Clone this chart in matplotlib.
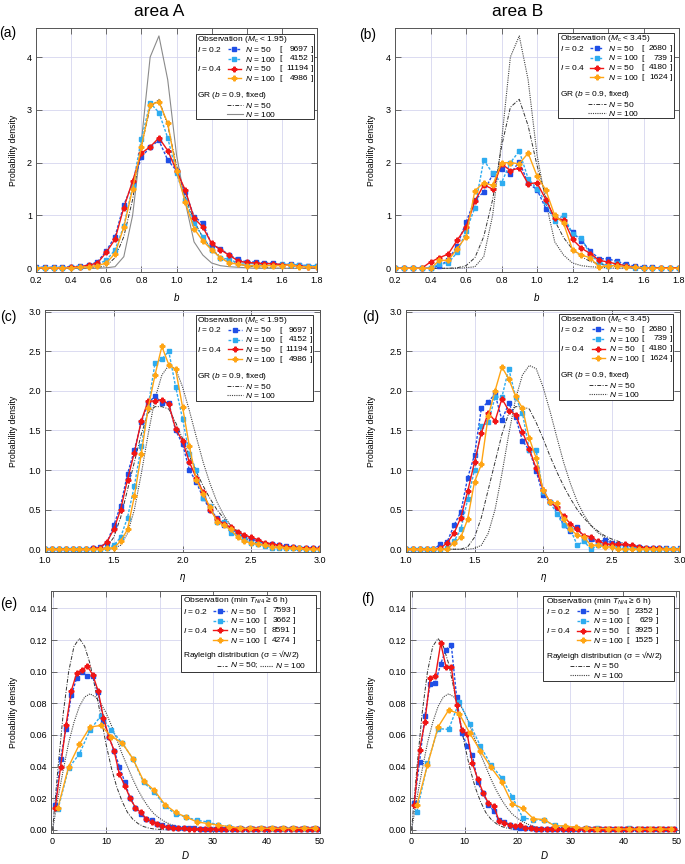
"""Six-panel probability density figure: b, eta and D for area A / area B."""
import numpy as np
import matplotlib
matplotlib.use("Agg")
import matplotlib.pyplot as plt
from matplotlib.lines import Line2D
from matplotlib.patches import Rectangle

# ---------------------------------------------------------------- data
b_x = np.round(np.arange(0.2, 1.8001, 0.05), 2)      # 33 bins
eta_x = np.round(np.arange(1.0, 3.0001, 0.05), 2)    # 41 bins
d_x50 = np.arange(0.5, 50, 1.0)                       # 50 bins (N = 50)
d_x100 = np.arange(1, 50, 2.0)                        # 25 bins (N = 100)
ray_x = np.arange(0, 31, 1.0)

# (a) area A, b-value
a_blue50 = [0.02, 0.02, 0.02, 0.02, 0.03, 0.04, 0.06, 0.12,
            0.33, 0.60, 1.20, 1.60, 2.10, 2.30, 2.42, 2.05,
            1.85, 1.45, 0.98, 0.85, 0.45, 0.37, 0.25, 0.17,
            0.12, 0.12, 0.10, 0.10, 0.07, 0.08, 0.06, 0.04, 0.05]
a_cyan100 = [0.01, 0.01, 0.01, 0.01, 0.02, 0.03, 0.04, 0.08,
             0.15, 0.35, 0.80, 1.55, 2.45, 3.13, 2.95, 2.47,
             1.80, 1.30, 0.85, 0.60, 0.35, 0.20, 0.17, 0.10,
             0.10, 0.08, 0.06, 0.06, 0.08, 0.07, 0.07, 0.05, 0.05]
a_red50 = [0.01, 0.01, 0.01, 0.01, 0.02, 0.03, 0.06, 0.10,
           0.30, 0.55, 1.15, 1.65, 2.18, 2.30, 2.47, 2.23,
           1.85, 1.48, 0.95, 0.78, 0.47, 0.35, 0.25, 0.14,
           0.11, 0.10, 0.09, 0.09, 0.07, 0.06, 0.04, 0.03, 0.03]
a_orange100 = [0.01, 0.01, 0.01, 0.01, 0.01, 0.02, 0.03, 0.05,
               0.10, 0.28, 0.78, 1.50, 2.30, 3.10, 3.15, 2.75,
               1.85, 1.25, 0.75, 0.52, 0.35, 0.20, 0.10, 0.08,
               0.05, 0.05, 0.05, 0.05, 0.05, 0.07, 0.03, 0.03, 0.03]
# (b) area B, b-value
b_blue50 = [0, 0, 0, 0, 0, 0.05, 0.15, 0.43,
            0.87, 1.30, 1.44, 1.78, 1.88, 1.79, 2.02, 1.61,
            1.49, 1.13, 0.97, 0.90, 0.68, 0.52, 0.33, 0.18,
            0.18, 0.13, 0.08, 0.04, 0.03, 0.02, 0.01, 0.01, 0.01]
b_cyan100 = [0, 0, 0, 0, 0, 0.08, 0.10, 0.30,
             0.70, 1.15, 2.05, 1.80, 1.62, 2.00, 2.22, 1.70,
             1.50, 1.25, 0.90, 1.00, 0.65, 0.58, 0.25, 0.12,
             0.05, 0.10, 0.05, 0, 0, 0, 0, 0, 0]
b_red50 = [0, 0, 0, 0, 0.12, 0.20, 0.27, 0.53,
           0.78, 1.27, 1.58, 1.50, 1.98, 1.85, 1.90, 1.60,
           1.62, 1.30, 0.95, 0.92, 0.55, 0.38, 0.28, 0.15,
           0.12, 0.08, 0.05, 0.02, 0.01, 0.01, 0.01, 0.01, 0.01]
b_orange100 = [0, 0, 0, 0, 0, 0.15, 0.15, 0.37,
               0.60, 1.47, 1.62, 1.57, 2.00, 2.00, 1.98, 2.18,
               1.75, 1.48, 1.00, 0.85, 0.35, 0.25, 0.20, 0.02,
               0.05, 0.05, 0.03, 0.02, 0.01, 0, 0, 0, 0]
# GR model (b = 0.9 fixed), b-value
gr50_b = [0, 0, 0, 0, 0, 0, 0, 0.01,
          0.05, 0.20, 0.60, 1.30, 2.30, 3.05, 3.20, 2.70,
          1.95, 1.35, 0.90, 0.58, 0.36, 0.22, 0.13, 0.08,
          0.05, 0.03, 0.02, 0.01, 0, 0, 0, 0, 0]
gr100_b = [0, 0, 0, 0, 0, 0, 0, 0,
           0.01, 0.03, 0.22, 1.00, 2.40, 4.00, 4.40, 3.57,
           2.15, 1.25, 0.50, 0.25, 0.10, 0.05, 0.03, 0.02,
           0.01, 0, 0, 0, 0, 0, 0, 0, 0]

# (c) area A, eta
c_blue50 = [0, 0, 0, 0, 0, 0, 0, 0.02, 0.03, 0.08,
            0.30, 0.55, 0.95, 1.25, 1.60, 1.85, 1.93, 1.85, 1.85, 1.50,
            1.33, 1.00, 0.85, 0.65, 0.50, 0.40, 0.30, 0.27, 0.20, 0.15,
            0.13, 0.10, 0.07, 0.07, 0.05, 0.04, 0.03, 0.02, 0.02, 0.01, 0.01]
c_cyan100 = [0, 0, 0, 0, 0, 0, 0, 0, 0, 0.01,
             0.05, 0.15, 0.40, 0.80, 1.30, 1.80, 2.35, 2.40, 2.50, 2.05,
             1.65, 1.20, 1.00, 0.65, 0.55, 0.35, 0.35, 0.20, 0.20, 0.12,
             0.08, 0.06, 0.04, 0.02, 0.02, 0.02, 0.01, 0.01, 0, 0, 0]
c_red50 = [0, 0, 0, 0, 0, 0, 0, 0.01, 0.02, 0.09,
           0.25, 0.50, 0.88, 1.22, 1.62, 1.87, 1.87, 1.89, 1.83, 1.52,
           1.37, 1.10, 0.90, 0.72, 0.50, 0.38, 0.32, 0.28, 0.22, 0.18,
           0.15, 0.12, 0.08, 0.07, 0.05, 0.03, 0.03, 0.02, 0.02, 0.01, 0.01]
c_orange100 = [0, 0, 0, 0, 0, 0, 0, 0, 0, 0.01,
               0.02, 0.10, 0.25, 0.67, 1.20, 1.78, 2.20, 2.56, 2.33, 2.27,
               1.80, 1.30, 0.88, 0.70, 0.53, 0.35, 0.30, 0.25, 0.15, 0.10,
               0.08, 0.06, 0.05, 0.03, 0.03, 0.02, 0.01, 0.01, 0, 0, 0]
# (d) area B, eta
d_blue50 = [0, 0, 0, 0, 0, 0.06, 0.09, 0.30, 0.47, 0.90,
            1.19, 1.78, 1.86, 1.96, 1.63, 1.84, 1.67, 1.37, 1.25, 0.99,
            0.68, 0.60, 0.52, 0.30, 0.23, 0.28, 0.13, 0.13, 0.08, 0.12,
            0.08, 0.06, 0.05, 0.04, 0.03, 0.02, 0.01, 0.01, 0.01, 0, 0.01]
d_cyan100 = [0, 0, 0, 0, 0, 0, 0.02, 0.10, 0.25, 0.63,
             1.00, 1.55, 1.60, 1.92, 1.92, 2.28, 1.92, 1.72, 1.25, 1.25,
             0.72, 0.60, 0.45, 0.30, 0.25, 0.05, 0.10, 0, 0.05, 0.05,
             0.05, 0.03, 0, 0.03, 0, 0, 0, 0, 0, 0, 0]
d_red50 = [0, 0, 0, 0, 0, 0.01, 0.08, 0.20, 0.40, 0.73,
           1.10, 1.47, 1.72, 1.62, 1.90, 1.75, 1.70, 1.48, 1.27, 1.02,
           0.75, 0.60, 0.53, 0.42, 0.32, 0.25, 0.17, 0.16, 0.10, 0.07,
           0.06, 0.06, 0.06, 0.05, 0.03, 0.02, 0.02, 0.01, 0, 0, 0]
d_orange100 = [0, 0, 0, 0, 0, 0, 0, 0.08, 0.15, 0.38,
               0.85, 1.07, 1.68, 2.00, 2.30, 2.15, 1.93, 1.78, 1.40, 1.15,
               0.75, 0.60, 0.58, 0.38, 0.25, 0.18, 0.15, 0.05, 0.05, 0.03,
               0.03, 0, 0, 0, 0, 0, 0, 0, 0, 0, 0]
# GR model, eta
gr50_eta = [0, 0, 0, 0, 0, 0, 0, 0, 0, 0.03,
            0.15, 0.40, 0.75, 1.10, 1.45, 1.72, 1.80, 1.80, 1.77, 1.60,
            1.40, 1.18, 0.98, 0.80, 0.64, 0.50, 0.39, 0.30, 0.23, 0.17,
            0.13, 0.10, 0.07, 0.05, 0.04, 0.03, 0.02, 0.015, 0.01, 0.01, 0.005]
gr100_eta = [0, 0, 0, 0, 0, 0, 0, 0, 0, 0,
             0.01, 0.05, 0.20, 0.50, 0.95, 1.45, 1.90, 2.20, 2.32, 2.28,
             2.05, 1.75, 1.42, 1.10, 0.83, 0.60, 0.43, 0.30, 0.21, 0.15,
             0.10, 0.07, 0.05, 0.03, 0.02, 0.015, 0.01, 0.005, 0, 0, 0]

# (e) area A, D
e_blue50 = [0.016, 0.045, 0.064, 0.085, 0.096, 0.100, 0.0975, 0.097, 0.087, 0.069,
            0.059, 0.050, 0.040, 0.030, 0.020, 0.014, 0.010, 0.007, 0.006, 0.004,
            0.003, 0.002, 0.0015, 0.001, 0.001, 0.001, 0.001, 0.0008, 0.0008, 0.0008,
            0.0008, 0.0008, 0.0008, 0.0008, 0.0008, 0.0008, 0.0008, 0.0008, 0.0008, 0.0008,
            0.0008, 0.0008, 0.0008, 0.0008, 0.0008, 0.0008, 0.0008, 0.0008, 0.0008, 0.0008]
e_red50 = [0.014, 0.040, 0.066, 0.088, 0.099, 0.101, 0.1035, 0.098, 0.088, 0.071,
           0.059, 0.050, 0.035, 0.028, 0.020, 0.014, 0.011, 0.007, 0.005, 0.004,
           0.0025, 0.0018, 0.0012, 0.001, 0.001, 0.0008, 0.0008, 0.0008, 0.0008, 0.0008,
           0.0008, 0.0008, 0.0008, 0.0008, 0.0008, 0.0008, 0.0008, 0.0008, 0.0008, 0.0008,
           0.0008, 0.0008, 0.0008, 0.0008, 0.0008, 0.0008, 0.0008, 0.0008, 0.0008, 0.0008]
e_cyan100 = [0.013, 0.039, 0.048, 0.063, 0.072, 0.063, 0.055, 0.045, 0.030, 0.024,
             0.015, 0.010, 0.008, 0.006, 0.005, 0.003, 0.002, 0.001, 0.001, 0.001,
             0.001, 0.001, 0.001, 0.001, 0.001]
e_orange100 = [0.014, 0.040, 0.054, 0.065, 0.066, 0.059, 0.055, 0.045, 0.031, 0.025,
               0.016, 0.011, 0.008, 0.005, 0.004, 0.003, 0.002, 0.001, 0.001, 0.001,
               0.001, 0.001, 0.001, 0.001, 0.001]
# (f) area B, D
f_blue50 = [0.017, 0.043, 0.072, 0.092, 0.093, 0.105, 0.114, 0.117, 0.084, 0.061,
            0.053, 0.047, 0.030, 0.023, 0.016, 0.012, 0.006, 0.005, 0.003, 0.002,
            0.001, 0.001, 0.001, 0.0008, 0.0008, 0.0008, 0.0008, 0.0008, 0.0008, 0.0008,
            0.0008, 0.0008, 0.0008, 0.0008, 0.0008, 0.0008, 0.0008, 0.0008, 0.0008, 0.0008,
            0.0008, 0.0008, 0.0008, 0.0008, 0.0008, 0.0008, 0.0008, 0.0008, 0.0008, 0.0008]
f_red50 = [0.016, 0.0505, 0.068, 0.096, 0.097, 0.118, 0.103, 0.103, 0.079, 0.063,
           0.0606, 0.042, 0.032, 0.0236, 0.0168, 0.0152, 0.0059, 0.0042, 0.0032, 0.0025,
           0.003, 0.001, 0.001, 0.0008, 0.0008, 0.0008, 0.0008, 0.0008, 0.0008, 0.0008,
           0.0008, 0.0008, 0.0008, 0.0008, 0.0008, 0.0008, 0.0008, 0.0008, 0.0008, 0.0008,
           0.0008, 0.0008, 0.0008, 0.0008, 0.0008, 0.0008, 0.0008, 0.0008, 0.0008, 0.0008]
f_cyan100 = [0.0115, 0.042, 0.064, 0.0635, 0.081, 0.067, 0.053, 0.041, 0.033, 0.021,
             0.0075, 0.0065, 0.006, 0.003, 0.002, 0.001, 0.001, 0.001, 0.0007, 0.0005,
             0.0009, 0.0005, 0.0005, 0.0005, 0.0005]
f_orange100 = [0.0155, 0.041, 0.065, 0.0757, 0.0735, 0.061, 0.050, 0.0395, 0.0305, 0.0165,
               0.0135, 0.007, 0.0065, 0.0025, 0.0025, 0.0015, 0.001, 0.0008, 0.0008, 0.0005,
               0.0005, 0.0005, 0.0005, 0.0005, 0.0005]
# Rayleigh distribution curves
ray50 = [0, 0.039, 0.074, 0.100, 0.116, 0.121, 0.116, 0.105, 0.089, 0.072,
         0.054, 0.039, 0.027, 0.018, 0.011, 0.0067, 0.0039, 0.0021, 0.0011, 0.0005,
         0.0003, 0.0001, 0.0001, 0, 0, 0, 0, 0, 0, 0, 0]
ray100 = [0, 0.020, 0.038, 0.055, 0.068, 0.078, 0.084, 0.086, 0.084, 0.080,
          0.074, 0.066, 0.057, 0.048, 0.040, 0.032, 0.025, 0.019, 0.014, 0.010,
          0.0073, 0.0051, 0.0035, 0.0023, 0.0015, 0.0010, 0.0006, 0.0004, 0.0002, 0.0001, 0.0001]

counts_A = [9697, 4152, 11194, 4986]
counts_B = [2680, 739, 4180, 1624]
counts_A_D = [7593, 3662, 8591, 4274]
counts_B_D = [2352, 629, 3925, 1525]
i_values = ["0.2", "0.4"]
n_values = [50, 100]

# ---------------------------------------------------------------- style
plt.rcParams['font.family'] = ['Liberation Sans', 'DejaVu Sans']
plt.rcParams['mathtext.fontset'] = 'custom'
plt.rcParams['mathtext.rm'] = 'Liberation Sans'
plt.rcParams['mathtext.it'] = 'Liberation Sans:italic'

STY = {
    'b50': dict(color='#1f4fe6', ls=(0, (2, 1.2)), lw=1.0, marker='s', ms=2.9),
    'c100': dict(color='#2eacf0', ls=(0, (2, 1.2)), lw=1.0, marker='s', ms=2.9),
    'r50': dict(color='#f01616', ls='-', lw=1.0, marker='P', ms=3.4),
    'o100': dict(color='#ffa514', ls='-', lw=1.0, marker='P', ms=3.4),
}
MOD50 = dict(color='#333333', ls=(0, (4, 1.5, 1, 1.5)), lw=0.7)
MOD100_SOLID = dict(color='#8a8a8a', ls='-', lw=0.8)
MOD100_DOT = dict(color='#444444', ls=(0, (1, 1)), lw=0.8)
OBS_KEYS = ['b50', 'c100', 'r50', 'o100']

W, H = 685, 864
fig = plt.figure(figsize=(W / 100, H / 100), dpi=100)
FS = 6.5
LFS = 6.0   # legend text


def add_ax(l, t, r, b):
    return fig.add_axes([l / W, 1 - b / H, (r - l) / W, (b - t) / H])


def ftext(x, y, s, **kw):
    kw.setdefault('fontsize', LFS)
    kw.setdefault('va', 'center')
    fig.text(x / W, 1 - y / H, s, zorder=5, **kw)


def fseg(x0, x1, y, st):
    st = dict(st)
    ln = Line2D([x0 / W, (x0 + x1) / 2 / W, x1 / W], [1 - y / H] * 3,
                transform=fig.transFigure, zorder=4, linestyle=st.pop('ls'),
                linewidth=st.pop('lw'), markevery=[1], **st)
    fig.add_artist(ln)


def setup(ax, xlim, ylim, xticks, yticks, xfmt, yfmt):
    ax.set_xlim(*xlim)
    ax.set_ylim(*ylim)
    ax.set_xticks(xticks)
    ax.set_yticks(yticks)
    ax.set_xticklabels([xfmt.format(v) for v in xticks])
    ax.set_yticklabels([yfmt.format(v) for v in yticks])
    ax.grid(True, color='#d6d6ef', lw=0.6)
    ax.set_axisbelow(True)
    ax.tick_params(direction='in', top=True, right=True, length=4, width=0.6,
                   color='#555555', labelsize=FS, pad=3)
    for s in ax.spines.values():
        s.set_color('#555555')
        s.set_linewidth(0.7)


def draw_obs(ax, xs, series):
    for key, (x, y) in zip(OBS_KEYS, zip(xs, series)):
        st = dict(STY[key])
        ax.plot(x, y, linestyle=st.pop('ls'), linewidth=st.pop('lw'), **st)


def legend(box, rows, xs, header, counts, model_header, m_styles, combined=None):
    x0, y0, x1, y1 = box
    fig.add_artist(Rectangle((x0 / W, 1 - y1 / H), (x1 - x0) / W, (y1 - y0) / H,
                             transform=fig.transFigure, fc='white', ec='#333333',
                             lw=0.7, zorder=3))
    ry = [y0 + o for o in rows]
    xi, s0, s1, xn, xlb, xrb = [x0 + v for v in xs[:6]]
    ftext(xi, ry[0], header)
    for i, key in enumerate(OBS_KEYS):
        y = ry[i + 1]
        if i % 2 == 0:
            ftext(xi, y, f"$I$ = {i_values[i // 2]}")
        fseg(s0, s1, y, STY[key])
        ftext(xn, y, f"$N$ = {n_values[i % 2]}")
        ftext(xlb, y, "[")
        ftext(xrb - 2.5, y, str(counts[i]), ha='right')
        ftext(xrb, y, "]")
    ftext(xi, ry[5], model_header)
    if combined:
        a0, a1, b0, b1, bn = [x0 + v for v in combined]
        fseg(a0, a1, ry[6], m_styles[0])
        ftext(xn, ry[6], "$N$ = 50;")
        fseg(b0, b1, ry[6], m_styles[1])
        ftext(bn, ry[6], "$N$ = 100")
    else:
        m0, m1 = x0 + xs[6], x0 + xs[7]
        for j in range(2):
            fseg(m0, m1, ry[6 + j], m_styles[j])
            ftext(xn, ry[6 + j], f"$N$ = {n_values[j]}")


ROWS = [5.3, 15, 24.7, 34.4, 44.1, 61.3, 71, 80]
GR_HDR = r"GR ($b$ = 0.9, fixed)"
RAY_HDR = "Rayleigh distribution (σ = √$N$/2)"
OBS_D_HDR = "Observation (min $T_{N/4}$ ≥ 6 h)"

# ---------------------------------------------------------------- (a)
ax = add_ax(36, 28, 317, 272)
ax.plot(b_x, gr50_b, linestyle=MOD50['ls'], color=MOD50['color'], lw=MOD50['lw'])
ax.plot(b_x, gr100_b, linestyle='-', color=MOD100_SOLID['color'], lw=MOD100_SOLID['lw'])
draw_obs(ax, [b_x] * 4, [a_blue50, a_cyan100, a_red50, a_orange100])
setup(ax, (0.2, 1.8), (-0.07, 4.55), np.round(np.arange(0.2, 1.81, 0.2), 1),
      [0, 1, 2, 3, 4], "{:.1f}", "{:d}")
legend((195.7, 34.3, 314, 119.3), ROWS, [1.2, 32, 45.5, 49.5, 83.3, 115, 31, 47],
       r"Observation ($M_\mathrm{c}$ < 1.95)", counts_A, GR_HDR, [MOD50, MOD100_SOLID])

# ---------------------------------------------------------------- (b)
ax = add_ax(395, 28, 679, 272)
ax.plot(b_x, gr50_b, linestyle=MOD50['ls'], color=MOD50['color'], lw=MOD50['lw'])
ax.plot(b_x, gr100_b, linestyle=MOD100_DOT['ls'], color=MOD100_DOT['color'], lw=MOD100_DOT['lw'])
draw_obs(ax, [b_x] * 4, [b_blue50, b_cyan100, b_red50, b_orange100])
setup(ax, (0.2, 1.8), (-0.07, 4.55), np.round(np.arange(0.2, 1.81, 0.2), 1),
      [0, 1, 2, 3, 4], "{:.1f}", "{:d}")
legend((558.3, 33.3, 674.3, 118.3), ROWS, [1.7, 31.7, 44.7, 49.7, 83.4, 111.7, 29.7, 47.5],
       r"Observation ($M_\mathrm{c}$ < 3.45)", counts_B, GR_HDR, [MOD50, MOD100_DOT])

# ---------------------------------------------------------------- (c)
ax = add_ax(45, 310, 320, 552)
ax.plot(eta_x, gr50_eta, linestyle=MOD50['ls'], color=MOD50['color'], lw=MOD50['lw'])
ax.plot(eta_x, gr100_eta, linestyle=MOD100_DOT['ls'], color=MOD100_DOT['color'], lw=MOD100_DOT['lw'])
draw_obs(ax, [eta_x] * 4, [c_blue50, c_cyan100, c_red50, c_orange100])
setup(ax, (1.0, 3.0), (-0.035, 3.02), [1.0, 1.5, 2.0, 2.5, 3.0],
      [0.0, 0.5, 1.0, 1.5, 2.0, 2.5, 3.0], "{:.1f}", "{:.1f}")
legend((195.7, 315, 313.3, 400.7), ROWS, [1.2, 32, 46, 49.3, 83.6, 114.3, 31, 47],
       r"Observation ($M_\mathrm{c}$ < 1.95)", counts_A, GR_HDR, [MOD50, MOD100_DOT])

# ---------------------------------------------------------------- (d)
ax = add_ax(406, 310, 680, 552)
ax.plot(eta_x, gr50_eta, linestyle=MOD50['ls'], color=MOD50['color'], lw=MOD50['lw'])
ax.plot(eta_x, gr100_eta, linestyle=MOD100_DOT['ls'], color=MOD100_DOT['color'], lw=MOD100_DOT['lw'])
draw_obs(ax, [eta_x] * 4, [d_blue50, d_cyan100, d_red50, d_orange100])
setup(ax, (1.0, 3.0), (-0.035, 3.02), [1.0, 1.5, 2.0, 2.5, 3.0],
      [0.0, 0.5, 1.0, 1.5, 2.0, 2.5, 3.0], "{:.1f}", "{:.1f}")
legend((559, 314.3, 672.7, 400), ROWS, [1.2, 32.7, 46, 50.3, 82.7, 111, 29.7, 47.5],
       r"Observation ($M_\mathrm{c}$ < 3.45)", counts_B, GR_HDR, [MOD50, MOD100_DOT])

# ---------------------------------------------------------------- (e)
ax = add_ax(51, 591, 320, 833)
ax.plot(ray_x, ray50, linestyle=MOD50['ls'], color=MOD50['color'], lw=MOD50['lw'])
ax.plot(ray_x, ray100, linestyle=MOD100_DOT['ls'], color=MOD100_DOT['color'], lw=MOD100_DOT['lw'])
draw_obs(ax, [d_x50, d_x100, d_x50, d_x100], [e_blue50, e_cyan100, e_red50, e_orange100])
setup(ax, (-0.3, 50), (-0.002, 0.151), [0, 10, 20, 30, 40, 50],
      [0.0, 0.02, 0.04, 0.06, 0.08, 0.10, 0.12, 0.14], "{:d}", "{:.2f}")
legend((181, 595, 316, 671.7), [6.0, 16.0, 25.7, 35.4, 45.1, 59.5, 70.5],
       [1.7, 32, 45.7, 49, 82.3, 112.3],
       OBS_D_HDR, counts_A_D, RAY_HDR, [MOD50, MOD100_DOT],
       combined=[35.7, 45.7, 79, 92, 94])

# ---------------------------------------------------------------- (f)
ax = add_ax(410, 591, 679, 833)
ax.plot(ray_x, ray50, linestyle=MOD50['ls'], color=MOD50['color'], lw=MOD50['lw'])
ax.plot(ray_x, ray100, linestyle=MOD100_DOT['ls'], color=MOD100_DOT['color'], lw=MOD100_DOT['lw'])
draw_obs(ax, [d_x50, d_x100, d_x50, d_x100], [f_blue50, f_cyan100, f_red50, f_orange100])
setup(ax, (-0.3, 50.5), (-0.002, 0.151), [0, 10, 20, 30, 40, 50],
      [0.0, 0.02, 0.04, 0.06, 0.08, 0.10, 0.12, 0.14], "{:d}", "{:.2f}")
legend((543.3, 595.7, 674.3, 681), [5.8, 15.5, 25.2, 34.9, 44.6, 59.8, 70.2, 79.5],
       [2.4, 33.4, 46.7, 50, 83.4, 112.4, 26.7, 46.7],
       OBS_D_HDR, counts_B_D, RAY_HDR, [MOD50, MOD100_DOT])

# ---------------------------------------------------------------- labels
for x, y in [(13, 150), (372, 150), (13, 431), (372, 431), (13, 712), (372, 712)]:
    ftext(x, y, "Probability density", rotation=90, ha='center', fontsize=6.3)
for x, y, s in [(176.5, 297, "$b$"), (537, 297, "$b$"), (182.5, 578, r"$\eta$"),
                (543, 578, r"$\eta$"), (185.5, 855, "$D$"), (544.5, 855, "$D$")]:
    ftext(x, y, s, ha='center', fontsize=7)
for x, y, s in [(8, 33, "(a)"), (368, 35, "(b)"), (8, 317, "(c)"),
                (371, 317, "(d)"), (9, 604, "(e)"), (368, 599, "(f)")]:
    ftext(x, y, s, ha='center', fontsize=10)
ftext(159, 11, "area A", ha='center', fontsize=12.5)
ftext(518, 11, "area B", ha='center', fontsize=12.5)

fig.savefig("out.png", dpi=100)
